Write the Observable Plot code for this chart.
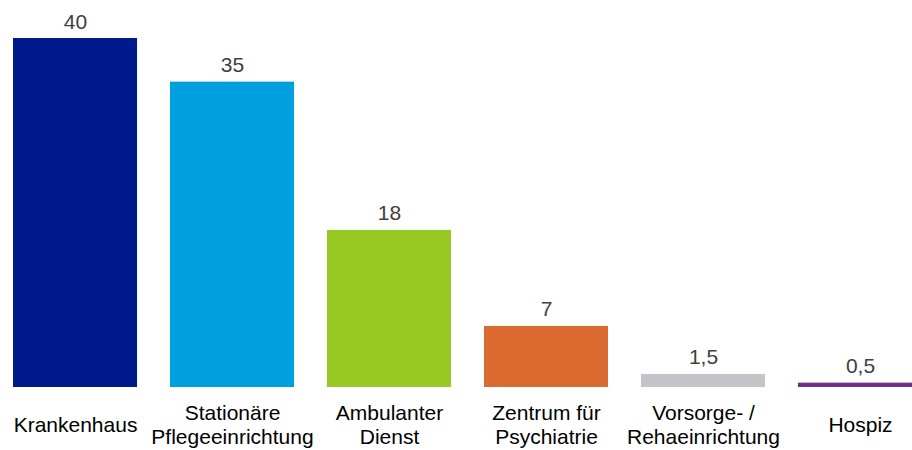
<!DOCTYPE html>
<html>
<head>
<meta charset="utf-8">
<script src="https://cdn.jsdelivr.net/npm/d3@7"></script>
<script src="https://cdn.jsdelivr.net/npm/@observablehq/plot@0.6"></script>
<style>
  html, body { margin: 0; padding: 0; background: #fff; overflow: hidden; }
  #chart svg { display: block; overflow: visible; }
</style>
</head>
<body>
<div id="chart"></div>
<script>
const categories = ["Krankenhaus", "Stationäre Pflegeeinrichtung", "Ambulanter Dienst", "Zentrum für Psychiatrie", "Vorsorge- / Rehaeinrichtung", "Hospiz"];
const tickLabels = ["Krankenhaus", "Stationäre\nPflegeeinrichtung", "Ambulanter\nDienst", "Zentrum für\nPsychiatrie", "Vorsorge- /\nRehaeinrichtung", "Hospiz"];
const values = [40, 35, 18, 7, 1.5, 0.5];
const valueLabels = ["40", "35", "18", "7", "1,5", "0,5"];
const colors = ["#001A8C", "#00A0DF", "#98C923", "#DC6B31", "#C4C5C8", "#712F8C"];

const data = categories.map((c, i) => ({cat: c, value: values[i], label: valueLabels[i], tick: tickLabels[i], color: colors[i]}));

const chart = Plot.plot({
  width: 912,
  height: 450,
  margin: 0,
  style: {fontFamily: "'Liberation Sans', Arial, sans-serif", background: "#fff"},
  x: {domain: categories, range: [13, 922], paddingInner: 0.21, paddingOuter: 0, round: false, axis: null},
  y: {domain: [0, 40], range: [387, 38], axis: null},
  marks: [
    Plot.barY(data, {x: "cat", y: "value", fill: "color"}),
    Plot.text(data, {x: "cat", y: "value", text: "label", lineAnchor: "bottom", dy: -10, fontSize: 21, fill: "#404040"}),
    Plot.text(data, {x: "cat", y: 0, text: "tick", lineAnchor: "middle", dy: 37, fontSize: 21, lineHeight: 1.15, fill: "#000"})
  ]
});
document.getElementById("chart").appendChild(chart);
</script>
</body>
</html>
